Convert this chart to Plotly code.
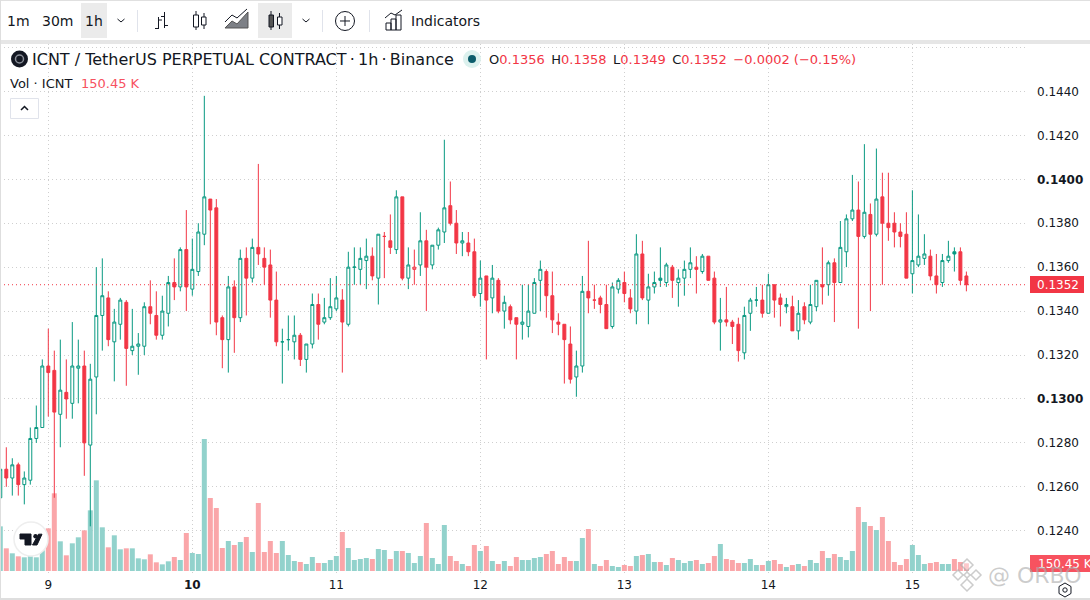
import pandas as pd
import plotly.graph_objects as go

# hourly candles, prices in units of 0.0001
opens = [
    1255, 1268, 1264, 1270, 1261, 1263, 1282, 1287, 1315, 1313,
    1293, 1303, 1298, 1314, 1315, 1279, 1310, 1338, 1346, 1326,
    1334, 1344, 1322, 1324, 1324, 1342, 1338, 1329, 1339, 1353,
    1351, 1368, 1350, 1358, 1375, 1391, 1387, 1337, 1327, 1351,
    1337, 1364, 1355, 1369, 1364, 1361, 1345, 1326, 1327, 1326,
    1329, 1318, 1325, 1343, 1335, 1337, 1341, 1345, 1334, 1360,
    1359, 1363, 1365, 1355, 1374, 1372, 1368, 1392, 1355, 1359,
    1361, 1372, 1361, 1370, 1376, 1388, 1380, 1371, 1371, 1367,
    1348, 1356, 1346, 1354, 1340, 1342, 1337, 1334, 1333, 1339,
    1354, 1358, 1347, 1335, 1334, 1325, 1310, 1315, 1349, 1345,
    1346, 1343, 1333, 1350, 1353, 1346, 1340, 1366, 1345, 1351,
    1355, 1353, 1360, 1353, 1355, 1359, 1360, 1358, 1365, 1355,
    1335, 1336, 1335, 1334, 1321, 1339, 1345, 1345, 1339, 1352,
    1346, 1342, 1342, 1331, 1342, 1335, 1342, 1352, 1352, 1362,
    1353, 1367, 1382, 1386, 1374, 1384, 1375, 1392, 1380, 1380,
    1376, 1375, 1357, 1361, 1364, 1365, 1356, 1353, 1363, 1367,
    1367, 1356,
]
highs = [
    1269, 1278, 1273, 1271, 1267, 1287, 1297, 1318, 1332, 1322,
    1327, 1318, 1335, 1327, 1322, 1316, 1360, 1364, 1349, 1341,
    1346, 1345, 1341, 1330, 1344, 1354, 1349, 1347, 1356, 1364,
    1369, 1386, 1373, 1380, 1438, 1391, 1391, 1338, 1356, 1354,
    1368, 1369, 1373, 1407, 1369, 1368, 1358, 1332, 1338, 1338,
    1330, 1325, 1348, 1348, 1346, 1355, 1356, 1350, 1367, 1369,
    1369, 1373, 1369, 1375, 1376, 1384, 1395, 1392, 1369, 1368,
    1385, 1377, 1370, 1378, 1418, 1399, 1386, 1376, 1376, 1373,
    1363, 1356, 1361, 1355, 1347, 1343, 1337, 1352, 1352, 1355,
    1363, 1359, 1358, 1339, 1334, 1333, 1322, 1356, 1372, 1352,
    1347, 1352, 1353, 1355, 1358, 1350, 1375, 1372, 1357, 1358,
    1369, 1362, 1361, 1359, 1363, 1369, 1365, 1366, 1365, 1358,
    1346, 1351, 1336, 1337, 1342, 1346, 1351, 1352, 1357, 1352,
    1348, 1346, 1347, 1345, 1344, 1352, 1354, 1369, 1363, 1364,
    1381, 1384, 1402, 1399, 1416, 1389, 1414, 1403, 1403, 1385,
    1380, 1385, 1395, 1384, 1375, 1368, 1366, 1366, 1372, 1369,
    1369, 1358,
]
lows = [
    1252, 1260, 1256, 1256, 1252, 1261, 1280, 1287, 1292, 1255,
    1278, 1291, 1291, 1298, 1265, 1242, 1293, 1322, 1324, 1308,
    1327, 1306, 1320, 1311, 1320, 1334, 1327, 1327, 1333, 1345,
    1349, 1340, 1347, 1356, 1370, 1334, 1329, 1314, 1312, 1321,
    1335, 1338, 1353, 1361, 1352, 1337, 1324, 1307, 1322, 1318,
    1315, 1312, 1323, 1327, 1334, 1336, 1340, 1312, 1333, 1352,
    1352, 1350, 1354, 1343, 1355, 1366, 1366, 1354, 1350, 1352,
    1356, 1340, 1359, 1368, 1371, 1379, 1366, 1365, 1365, 1346,
    1342, 1318, 1339, 1339, 1332, 1334, 1318, 1327, 1328, 1339,
    1340, 1337, 1330, 1329, 1307, 1307, 1301, 1312, 1339, 1341,
    1339, 1332, 1332, 1348, 1344, 1339, 1334, 1345, 1334, 1348,
    1351, 1351, 1346, 1342, 1347, 1355, 1348, 1357, 1354, 1334,
    1322, 1333, 1325, 1317, 1318, 1331, 1342, 1337, 1339, 1337,
    1333, 1339, 1331, 1327, 1334, 1334, 1340, 1343, 1347, 1335,
    1353, 1360, 1381, 1332, 1373, 1340, 1374, 1352, 1372, 1369,
    1369, 1355, 1348, 1360, 1361, 1354, 1348, 1351, 1362, 1358,
    1352, 1349,
]
closes = [
    1268, 1264, 1270, 1261, 1264, 1282, 1287, 1315, 1312, 1294,
    1304, 1300, 1315, 1315, 1280, 1309, 1338, 1347, 1327, 1335,
    1345, 1323, 1324, 1325, 1342, 1339, 1329, 1340, 1353, 1351,
    1368, 1351, 1359, 1376, 1392, 1386, 1335, 1327, 1351, 1337,
    1364, 1355, 1369, 1366, 1360, 1345, 1326, 1326, 1327, 1329,
    1318, 1325, 1343, 1334, 1337, 1342, 1346, 1335, 1360, 1360,
    1364, 1365, 1356, 1375, 1374, 1369, 1392, 1355, 1361, 1360,
    1372, 1360, 1370, 1377, 1387, 1380, 1371, 1372, 1367, 1347,
    1355, 1345, 1355, 1340, 1344, 1336, 1334, 1335, 1340, 1353,
    1359, 1347, 1336, 1334, 1327, 1309, 1315, 1349, 1346, 1345,
    1343, 1332, 1351, 1354, 1348, 1341, 1366, 1346, 1351, 1353,
    1354, 1361, 1354, 1355, 1359, 1362, 1359, 1365, 1354, 1335,
    1336, 1335, 1333, 1322, 1338, 1345, 1345, 1339, 1352, 1345,
    1343, 1343, 1331, 1339, 1336, 1343, 1354, 1351, 1362, 1353,
    1369, 1382, 1386, 1374, 1385, 1375, 1391, 1380, 1378, 1376,
    1374, 1355, 1363, 1365, 1366, 1356, 1352, 1363, 1365, 1366,
    1354, 1352,
]
# volume in thousands
volumes = [
    871, 442, 345, 286, 267, 286, 267, 403, 832, 1515,
    579, 306, 540, 657, 793, 1183, 1768, 852, 462, 696,
    423, 442, 442, 247, 228, 325, 169, 130, 189, 273,
    215, 741, 351, 332, 2574, 1424, 1229, 449, 585, 507,
    566, 663, 371, 1326, 371, 585, 351, 585, 312, 195,
    176, 137, 273, 156, 156, 215, 293, 761, 449, 215,
    234, 254, 234, 429, 410, 234, 390, 390, 351, 156,
    293, 936, 254, 137, 897, 293, 195, 137, 98, 507,
    390, 488, 195, 137, 195, 98, 273, 215, 215, 254,
    273, 332, 390, 137, 273, 195, 195, 644, 819, 137,
    98, 215, 98, 78, 117, 98, 293, 312, 332, 176,
    176, 117, 254, 215, 156, 195, 215, 137, 156, 293,
    527, 234, 215, 156, 156, 234, 117, 117, 195, 215,
    137, 78, 117, 137, 98, 215, 156, 390, 254, 332,
    273, 215, 390, 1248, 956, 878, 800, 1053, 585, 176,
    117, 234, 507, 312, 137, 156, 176, 137, 137, 234,
    176, 150.45,
]
day_ticks = ["2025-10-09", "2025-10-10", "2025-10-11", "2025-10-12", "2025-10-13", "2025-10-14", "2025-10-15"]
day_labels = ["9", "<b>10</b>", "11", "12", "13", "14", "15"]
price_ticks = [0.1460, 0.1440, 0.1420, 0.1400, 0.1380, 0.1360, 0.1340, 0.1320, 0.1300, 0.1280, 0.1260, 0.1240]
price_labels = ["", "0.1440", "0.1420", "<b>0.1400</b>", "0.1380", "0.1360", "0.1340", "0.1320", "<b>0.1300</b>",
                "0.1280", "0.1260", "0.1240"]
last_price = 0.1352

GREEN = "#089981"
RED = "#F23645"
VOL_GREEN = "#92D2CC"
VOL_RED = "#FAA6A9"
INK = "#131722"
FONT = "DejaVu Sans"

W, H = 1090, 600
M_L, M_R, M_T, M_B = 0, 63, 44, 26

times = pd.date_range("2025-10-08 16:00", periods=len(closes), freq="h")
df = pd.DataFrame({"t": times, "o": opens, "h": highs, "l": lows, "c": closes, "v": volumes})
for col in "ohlc":
    df[col] = df[col] * 1e-4
df["prev"] = df["c"].shift(1).fillna(df["o"])


def px(x):
    return (x - M_L) / (W - M_L - M_R)


def py(y):
    return 1 - (y - M_T) / (H - M_T - M_B)


def poly(points, close=False):
    path = " L ".join(f"{px(x):.5f} {py(y):.5f}" for x, y in points)
    return "M " + path + (" Z" if close else "")


shapes = []
notes = []


def line(points, color=INK, width=1, fill=None, close=False):
    shapes.append(dict(type="path", xref="paper", yref="paper", path=poly(points, close),
                       line=dict(color=color, width=width), fillcolor=fill, layer="above"))


def box(x0, y0, x1, y1, color=None, fill=None, width=1):
    shapes.append(dict(type="rect", xref="paper", yref="paper", x0=px(x0), x1=px(x1), y0=py(y0), y1=py(y1),
                       line=dict(color=color or "rgba(0,0,0,0)", width=width if color else 0),
                       fillcolor=fill, layer="above"))


def disc(cx, cy, r, color=None, fill=None, width=1):
    shapes.append(dict(type="circle", xref="paper", yref="paper", x0=px(cx - r), x1=px(cx + r), y0=py(cy - r),
                       y1=py(cy + r), line=dict(color=color or "rgba(0,0,0,0)", width=width if color else 0),
                       fillcolor=fill, layer="above"))


def label(x, y, text, size=13, color=INK, anchor="left"):
    # annotations sit about a pixel right of the requested spot
    notes.append(dict(xref="paper", yref="paper", x=px(x - 1), y=py(y), text=text, showarrow=False, xanchor=anchor,
                      yanchor="middle", align="left", font=dict(family=FONT, size=size, color=color), borderpad=0))


fig = go.Figure()

vol_colors = [VOL_GREEN if c >= o else VOL_RED for o, c in zip(df["o"], df["c"])]
fig.add_trace(go.Bar(x=df["t"], y=df["v"], marker=dict(color=vol_colors, line=dict(width=0)), width=3000000,
                     yaxis="y", hoverinfo="skip", showlegend=False))

# hollow candles: colour follows the previous close, fill follows open vs close
for up in (True, False):
    for solid in (True, False):
        part = df[((df["c"] >= df["prev"]) == up) & ((df["c"] < df["o"]) == solid)]
        color = GREEN if up else RED
        side = dict(line=dict(color=color, width=1), fillcolor=color if solid else "#ffffff")
        fig.add_trace(go.Candlestick(x=part["t"], open=part["o"], high=part["h"], low=part["l"], close=part["c"],
                                     increasing=side, decreasing=side, yaxis="y2", hoverinfo="skip",
                                     showlegend=False))

# last price line
shapes.append(dict(type="line", xref="paper", yref="y2", x0=0, x1=1, y0=last_price, y1=last_price,
                   line=dict(color=RED, width=1, dash="1px,3px"), layer="above"))

# page frame and toolbar
box(0, 40, W, 44, fill="#E6E6E6")
box(0, 0, W, 1, fill="#E0E0E0")
box(0, 0, 1, H, fill="#DEDEDE")
box(0, 598, W, 600, fill="#DEDEDE")
box(81, 3, 107, 38, fill="#EBEBEB")
box(258, 3, 292, 38, fill="#EBEBEB")
label(7, 20.5, "1m", 14)
label(42, 20.5, "30m", 14)
label(85, 20.5, "1h", 14)
label(411, 20.5, "Indicators", 14)
for cx in (121, 306):
    line([(cx - 3.5, 19), (cx, 22), (cx + 3.5, 19)])
for sx in (137.5, 322.5, 369.5):
    box(sx - 0.5, 10, sx + 0.5, 32, fill="#E0E3EB")
# bars icon
line([(158.5, 17), (158.5, 29)])
line([(155, 28.5), (158.5, 28.5)])
line([(158.5, 20), (162, 20)])
line([(164.5, 12), (164.5, 28)])
line([(161, 16.5), (164.5, 16.5)])
line([(164.5, 25.5), (168, 25.5)])
# candles icon
line([(196, 11), (196, 30)])
box(193.5, 15, 198.5, 27, color=INK, fill="#ffffff")
line([(204, 13), (204, 29)])
box(201.5, 17, 206, 25, color=INK, fill="#ffffff")
# area icon
line([(225, 28), (232, 21), (237, 24), (248, 12), (248, 28)], color="#555555", fill="rgba(19,23,34,0.55)", close=True)
line([(225, 22), (232, 15), (237, 18), (247, 9)])
# hollow candles icon
line([(271, 11), (271, 30)])
box(269, 15, 273.5, 27, color=INK, fill="#555555")
line([(279.5, 13), (279.5, 29)])
box(277.5, 17, 282, 25, color=INK, fill="#ffffff")
# compare icon
disc(345, 21, 9.5, color=INK)
line([(340, 21), (350, 21)])
line([(345, 16), (345, 26)])
# indicators icon
box(386, 23, 391, 30, color=INK)
box(391, 19, 396, 30, color=INK)
box(396, 15, 401, 30, color=INK)
line([(385, 18), (391, 13), (395, 15), (402, 10)])

# legend
disc(19.5, 59, 8.5, fill=INK)
disc(19.5, 59, 4, color="#8a8f98", width=1.5)
label(32, 59.5, "ICNT / TetherUS PERPETUAL CONTRACT\u2009·\u20091h\u2009·\u2009Binance", 16)
disc(472, 59, 9, fill="#DCF1EE")
disc(472, 59, 4, fill="#0B5C6B")
legend_values = ["0.1356", "0.1358", "0.1349", "0.1352"]
ohlc_text = "\u2002".join(
    f"{name}<span style='color:{RED}'>{value}</span>" for name, value in zip("OHLC", legend_values)
)
label(489, 59.5, f"{ohlc_text}\u2002<span style='color:{RED}'>−0.0002 (−0.15%)</span>", 13)
label(10, 83.5, "Vol · ICNT", 13)
label(81, 83.5, "150.45 K", 13, color="#F7525F")
box(10.5, 98.5, 38.5, 118.5, color="#E0E3EB", fill="#ffffff")
line([(21, 110), (24.5, 106.5), (28, 110)], width=1.5)

# TradingView badge
disc(31, 539, 17, color="#EEEEEE", fill="#ffffff", width=1.5)
line([(20, 534), (31, 534), (31, 545), (25, 545), (25, 539), (20, 539)], color=INK, fill=INK, close=True)
disc(35.5, 536.2, 2.2, fill=INK)
line([(38.5, 534.2), (42, 534.2), (37, 545), (32.5, 545)], color=INK, fill=INK, close=True)

# axis tags
box(1030, 276, 1084, 293, fill=RED)
label(1037, 284.5, "0.1352", 12, color="#ffffff")
box(1030, 555, W, 572, fill="#F7525F")
label(1038, 563.5, "150.45 K", 12, color="#ffffff")

# settings icon
line([(1065, 583), (1071, 586.5), (1071, 593.5), (1065, 597), (1059, 593.5), (1059, 586.5)], close=True)
disc(1065, 590, 2.2, color=INK)

# watermark
mark = "rgba(170,170,170,0.6)"
for cx, cy, r in [(967, 565, 6), (958, 575, 5), (976, 575, 5), (967, 585, 6), (967, 575, 3)]:
    line([(cx, cy - r), (cx + r, cy), (cx, cy + r), (cx - r, cy)], color=mark, width=1.5,
         fill="rgba(255,255,255,0.4)", close=True)
label(988, 575, "@ ORBO", 22, color=mark)

fig.update_layout(
    width=W,
    height=H,
    margin=dict(l=M_L, r=M_R, t=M_T, b=M_B, pad=0),
    paper_bgcolor="#ffffff",
    plot_bgcolor="#ffffff",
    font=dict(family=FONT, size=12, color=INK),
    showlegend=False,
    hovermode=False,
    shapes=shapes,
    annotations=notes,
    xaxis=dict(
        type="date",
        range=["2025-10-08 15:57", "2025-10-15 19:06"],
        tickmode="array",
        tickvals=day_ticks,
        ticktext=day_labels,
        showgrid=True,
        gridcolor="#CFCFCF",
        griddash="1px,3px",
        gridwidth=1,
        zeroline=False,
        showline=False,
        ticks="",
        ticklabelstandoff=2,
        rangeslider=dict(visible=False),
        tickfont=dict(size=12),
    ),
    yaxis=dict(range=[-58.5, 10276], visible=False, fixedrange=True),
    yaxis2=dict(
        overlaying="y",
        side="right",
        range=[0.12203, 0.14616],
        tickmode="array",
        tickvals=price_ticks,
        ticktext=price_labels,
        showgrid=True,
        gridcolor="#CFCFCF",
        griddash="1px,3px",
        gridwidth=1,
        zeroline=False,
        showline=False,
        ticks="",
        ticklabelstandoff=9,
        tickfont=dict(size=12),
    ),
)

fig.write_html("out.html", config=dict(displayModeBar=False), post_script="document.body.style.margin='0';")
